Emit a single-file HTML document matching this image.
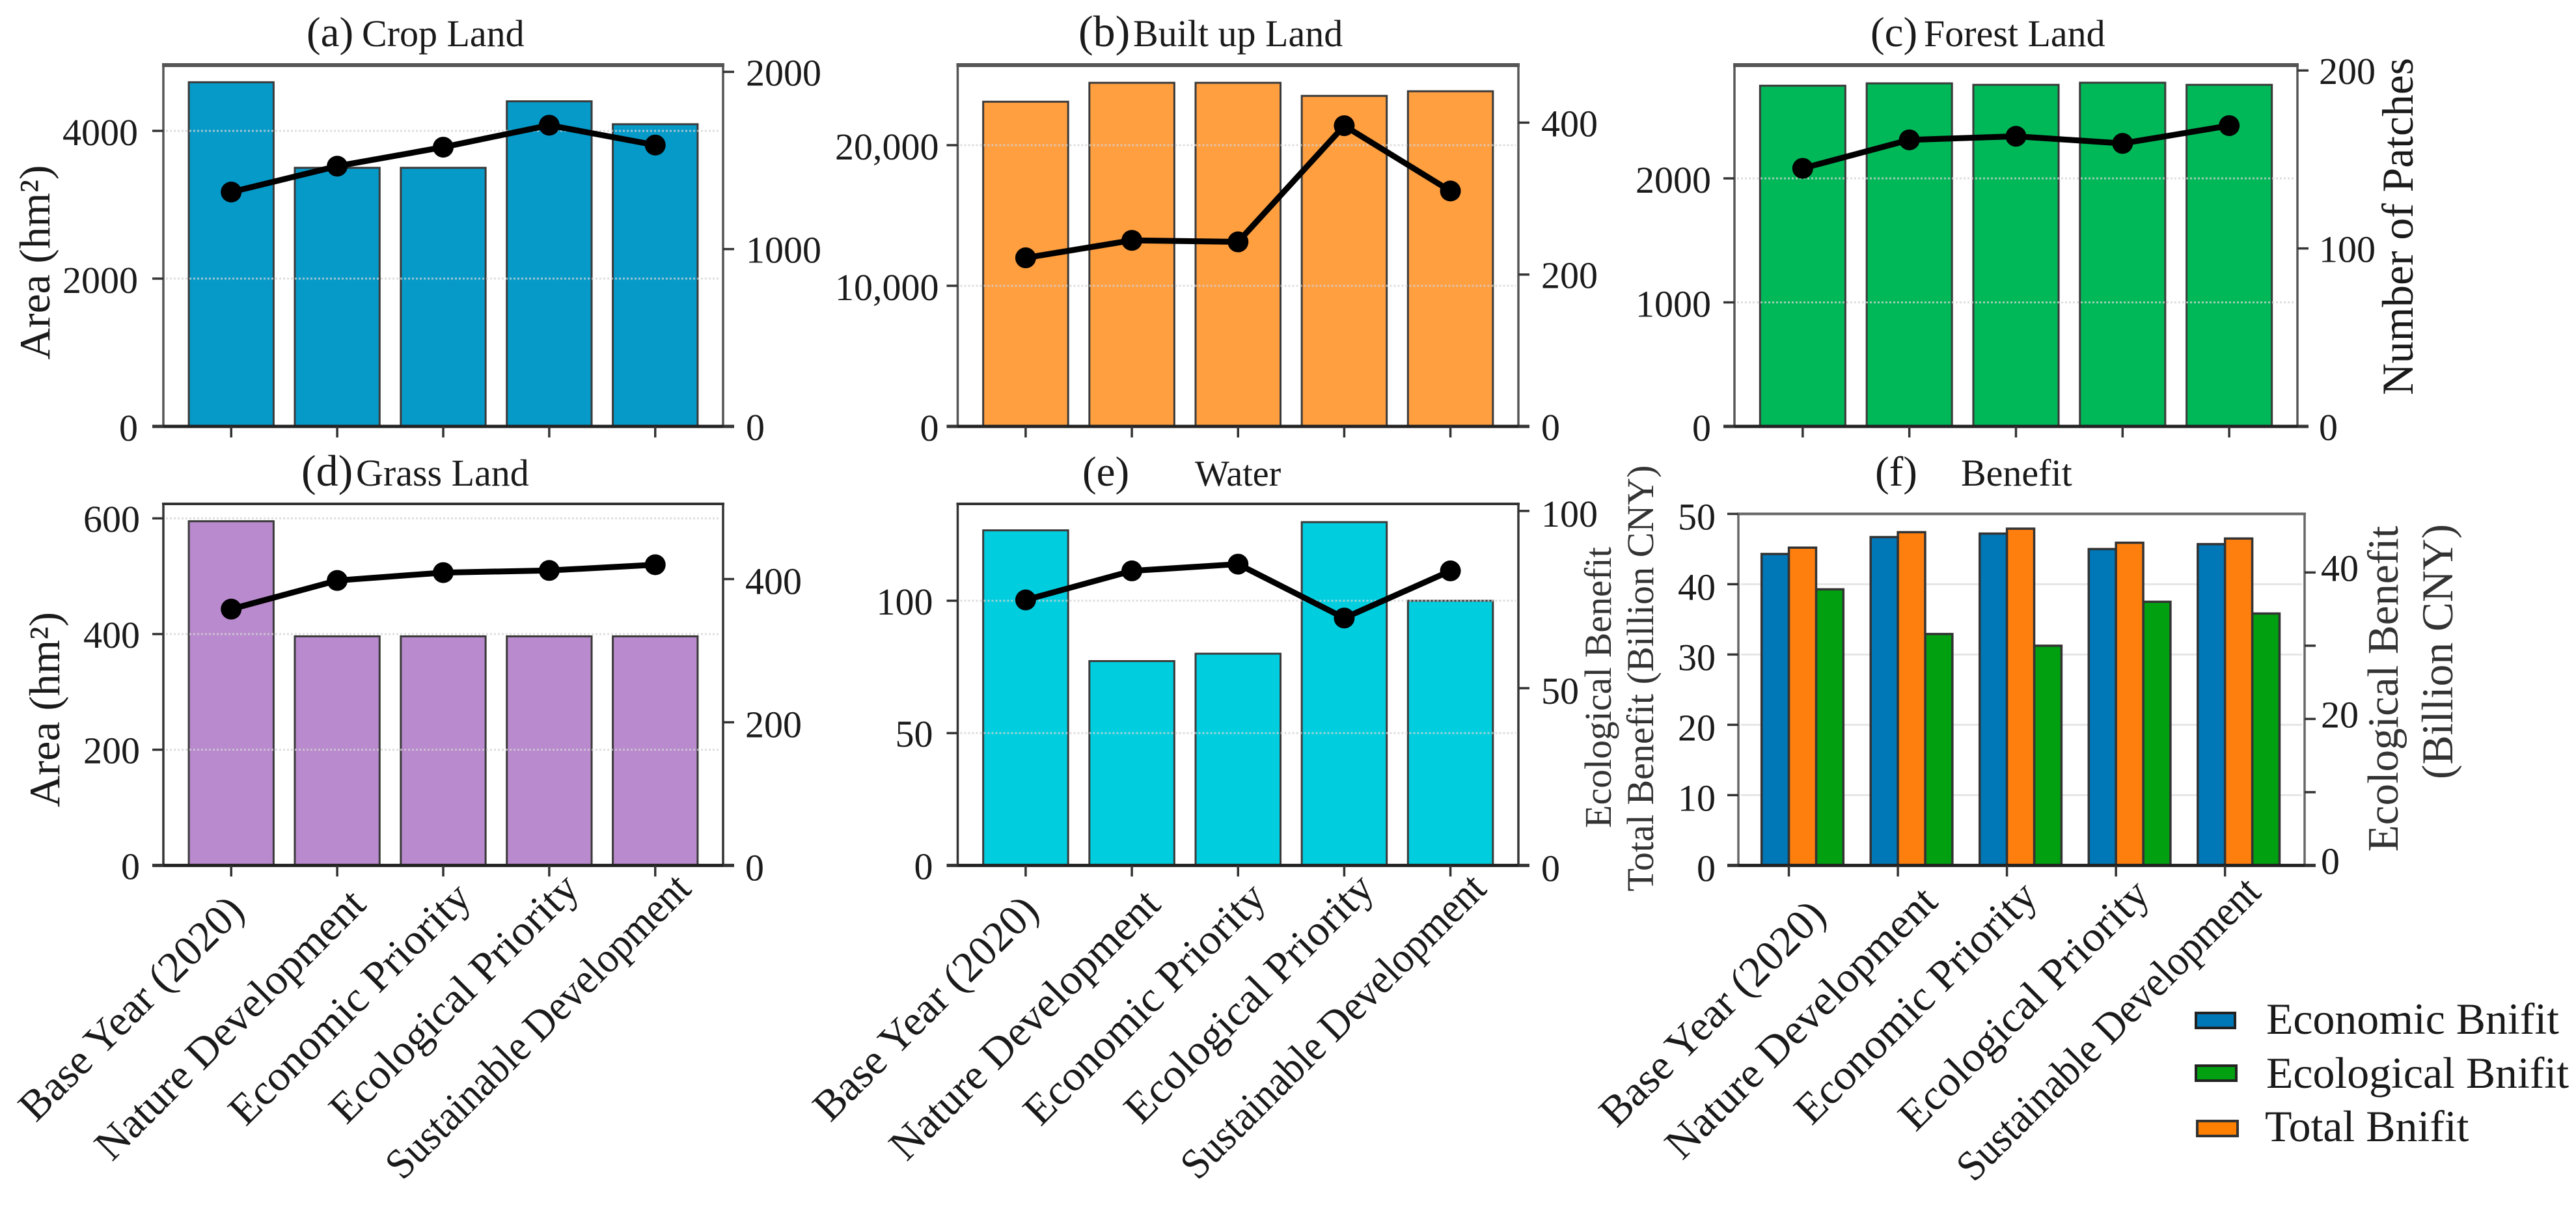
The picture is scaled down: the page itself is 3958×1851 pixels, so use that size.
<!DOCTYPE html>
<html lang="en">
<head>
<meta charset="utf-8">
<title>Land use scenarios chart</title>
<style>
html,body{margin:0;padding:0;background:#fff;}
svg{display:block;}
text{font-family:"Liberation Serif",serif;fill:#1a1a1a;}
</style>
</head>
<body>
<svg id="chart" xmlns="http://www.w3.org/2000/svg" width="3958" height="1851" viewBox="0 0 3958 1851">
  <rect x="0" y="0" width="3958" height="1851" fill="#ffffff"/>
  <g id="panels"></g>

  <g>
    <text x="471" y="71" font-size="65">(a)</text>
    <text x="556" y="71" font-size="58">Crop Land</text>
    <text x="1657" y="71" font-size="68">(b)</text>
    <text x="1741" y="71" font-size="58">Built up Land</text>
    <text x="2874" y="71" font-size="65">(c)</text>
    <text x="2956" y="71" font-size="58">Forest Land</text>
    <text x="463" y="746" font-size="68">(d)</text>
    <text x="547" y="746" font-size="58">Grass Land</text>
    <text x="1663" y="746" font-size="65">(e)</text>
    <text x="1836" y="746" font-size="56">Water</text>
    <text x="2881" y="746" font-size="65">(f)</text>
    <text x="3013" y="746" font-size="58">Benefit</text>
  </g>

  <g>
    <text transform="translate(76,403) rotate(-90)" text-anchor="middle" font-size="67" textLength="299" lengthAdjust="spacingAndGlyphs">Area (hm²)</text>
    <text transform="translate(91,1090) rotate(-90)" text-anchor="middle" font-size="67" textLength="300" lengthAdjust="spacingAndGlyphs">Area (hm²)</text>
    <text transform="translate(3707,348) rotate(-90)" text-anchor="middle" font-size="67.6">Number of Patches</text>
    <text transform="translate(2475,1056) rotate(-90)" text-anchor="middle" font-size="57.8" style="fill:#333">Ecological Benefit</text>
    <text transform="translate(2540,1042) rotate(-90)" text-anchor="middle" font-size="58" style="fill:#333">Total Benefit (Billion CNY)</text>
    <text transform="translate(3684,1058) rotate(-90)" text-anchor="middle" font-size="67" style="fill:#333">Ecological Benefit</text>
    <text transform="translate(3768,1001) rotate(-90)" text-anchor="middle" font-size="67.5" style="fill:#333">(Billion CNY)</text>
  </g>

  <g>
    <g>
      <rect x="3374" y="1556" width="60" height="23" fill="#0077B6" stroke="#222" stroke-width="4"/>
      <text x="3482" y="1588" font-size="67.8">Economic Bnifit</text>
    </g>
    <g>
      <rect x="3374" y="1637" width="62" height="23" fill="#00A010" stroke="#222" stroke-width="4"/>
      <text x="3482" y="1671" font-size="67.8">Ecological Bnifit</text>
    </g>
    <g>
      <rect x="3376" y="1722" width="62" height="23" fill="#FF7F00" stroke="#333" stroke-width="4"/>
      <text x="3480" y="1753" font-size="67.8">Total Bnifit</text>
    </g>
  </g>
</svg>

<script>
const categories = ["Base Year (2020)", "Nature Development", "Economic Priority", "Ecological Priority", "Sustainable Development"];

const cropArea = [4658, 3500, 3500, 4400, 4090];
const cropPatches = [1322, 1468, 1575, 1699, 1587];
const cropAreaTicks = [0, 2000, 4000];
const cropPatchTicks = [0, 1000, 2000];

const builtArea = [23090, 24435, 24435, 23505, 23833];
const builtPatches = [222, 245, 243, 396, 310];
const builtAreaTicks = [0, 10000, 20000];
const builtPatchTicks = [0, 200, 400];

const forestArea = [2747, 2766, 2754, 2771, 2754];
const forestPatches = [145, 161, 163, 159, 169];
const forestAreaTicks = [0, 1000, 2000];
const forestPatchTicks = [0, 100, 200];

const grassArea = [595, 396, 396, 396, 396];
const grassPatches = [358, 398, 409, 412, 420];
const grassAreaTicks = [0, 200, 400, 600];
const grassPatchTicks = [0, 200, 400];

const waterArea = [126.6, 77.2, 80, 129.7, 100];
const waterPatches = [74.9, 83.1, 85, 69.8, 83.1];
const waterAreaTicks = [0, 50, 100];
const waterPatchTicks = [0, 50, 100];

const economicBenefit = [44.3, 46.7, 47.2, 45, 45.7];
const totalBenefit = [45.2, 47.4, 47.9, 45.9, 46.5];
const ecologicalBenefit = [37.7, 31.6, 30, 36, 34.4];
const benefitLeftTicks = [0, 10, 20, 30, 40, 50];
const benefitRightTicks = [0, 10, 20, 30, 40];
const benefitRightLabels = ["0", "", "20", "", "40"];

const NS = "http://www.w3.org/2000/svg";
const root = document.getElementById("panels");

function make(tag, attrs, parent) {
  const el = document.createElementNS(NS, tag);
  for (const k in attrs) el.setAttribute(k, attrs[k]);
  parent.appendChild(el);
  return el;
}
function linearX(left, right, min, max) {
  return v => left + (v - min) / (max - min) * (right - left);
}
function linearY(bottom, top, max) {
  return v => bottom - v / max * (bottom - top);
}
function fmt(v) {
  return v >= 10000 ? String(v).replace(/(\d)(\d{3})$/, "$1,$2") : String(v);
}

function drawFrame(g, f) {
  const top = make("line", {x1: f.left - 2, x2: f.right + 2, y1: f.top, y2: f.top, stroke: f.spine, "stroke-width": f.topWidth}, g);
  
  
  const l = make("line", {x1: f.left, x2: f.left, y1: f.top, y2: f.bottom, stroke: f.spine, "stroke-width": 3.5}, g);
  
  
  const r = make("line", {x1: f.right, x2: f.right, y1: f.top, y2: f.bottom, stroke: f.spine, "stroke-width": 3.5}, g);
  
  
  const b = make("line", {x1: f.left, x2: f.right, y1: f.bottom, y2: f.bottom, stroke: "#222", "stroke-width": 5}, g);
  
  
}

function drawGrid(g, f, ticks, y) {
  ticks.forEach(t => {
    if (t === 0) return;
    const line = make("line", {x1: f.left + 4, x2: f.right - 4, y1: y(t), y2: y(t), stroke: f.gridColor, "stroke-width": 3, "stroke-dasharray": f.gridDash, opacity: f.gridOpacity}, g);
    
    
  });
}

function drawYAxis(g, f, ticks, y, side, labels) {
  const tickDir = side === "left" ? -1 : 1;
  const edge = side === "left" ? f.left : f.right;
  const gap = side === "left" ? f.leftGap : f.rightGap;
  const dy = side === "left" ? f.leftDy : f.rightDy;
  ticks.forEach((t, i) => {
    const m = make("line", {x1: edge, x2: edge + tickDir * 17, y1: y(t), y2: y(t), stroke: "#333", "stroke-width": t === 0 ? 5 : 3.5}, g);
    
    
    const s = labels ? labels[i] : fmt(t);
    if (s) {
      const lab = make("text", {x: edge + tickDir * gap, y: y(t) + dy, "font-size": 58, "text-anchor": side === "left" ? "end" : "start"}, g);
      
      
      lab.textContent = s;
    }
  });
}

function drawXAxis(g, f, x, offsets, showLabels) {
  categories.forEach((c, i) => {
    const m = make("line", {x1: x(i), x2: x(i), y1: f.bottom, y2: f.bottom + 17, stroke: "#333", "stroke-width": 3.5}, g);
    
    
    if (showLabels) {
      const ax = x(i) + offsets[i][0];
      const ay = f.bottom + offsets[i][1];
      const lab = make("text", {x: ax, y: ay, "font-size": 66, "text-anchor": "end", textLength: offsets[i][2], lengthAdjust: "spacingAndGlyphs", transform: "rotate(-45 " + ax + " " + ay + ")"}, g);
      
      
      lab.textContent = c;
    }
  });
}

function drawBars(g, f, x, y, values, color, name) {
  values.forEach((v, i) => {
    const x0 = x(i - 0.4), x1 = x(i + 0.4);
    const r = make("rect", {x: x0, y: y(v), width: x1 - x0, height: y(0) - y(v), fill: color, stroke: "#3a3a3a", "stroke-width": 3}, g);
    
    
  });
}

function drawLine(g, x, y, values) {
  const pts = values.map((v, i) => x(i) + "," + y(v)).join(" ");
  const pl = make("polyline", {points: pts, fill: "none", stroke: "#000", "stroke-width": 9, "stroke-linejoin": "round"}, g);
  
  
  values.forEach((v, i) => {
    const c = make("circle", {cx: x(i), cy: y(v), r: 16, fill: "#000"}, g);
    
    
  });
}

const bottomOffsets = [[23, 73, 457], [47, 63, 556], [46, 53, 494], [49, 39, 510], [58, 39, 631]];
const benefitOffsets = [[60, 80, 459], [64, 59, 559], [50, 51, 495], [55, 48, 513], [58, 44, 628]];

const landPanels = [
  {name: "crop-land", left: 251, right: 1111, top: 100, bottom: 655, spine: "#555", topWidth: 6, leftMax: 4890, rightMax: 2038, area: cropArea, patches: cropPatches, leftTicks: cropAreaTicks, rightTicks: cropPatchTicks, color: "#069AC9", leftGap: 39, rightGap: 35, leftDy: 22, rightDy: 21, labels: false},
  {name: "built-up-land", left: 1471.5, right: 2333, top: 100, bottom: 655, spine: "#555", topWidth: 6, leftMax: 25694, rightMax: 475.8, area: builtArea, patches: builtPatches, leftTicks: builtAreaTicks, rightTicks: builtPatchTicks, color: "#FF9F40", leftGap: 29, rightGap: 35, leftDy: 22, rightDy: 21, labels: false},
  {name: "forest-land", left: 2665, right: 3530, top: 100, bottom: 655, spine: "#555", topWidth: 6, leftMax: 2913, rightMax: 203, area: forestArea, patches: forestPatches, leftTicks: forestAreaTicks, rightTicks: forestPatchTicks, color: "#00B858", leftGap: 36, rightGap: 33, leftDy: 22, rightDy: 21, labels: false},
  {name: "grass-land", left: 251, right: 1111, top: 774, bottom: 1329.4, spine: "#333", topWidth: 4, leftMax: 625, rightMax: 505, area: grassArea, patches: grassPatches, leftTicks: grassAreaTicks, rightTicks: grassPatchTicks, color: "#B98ACD", leftGap: 36, rightGap: 34, leftDy: 21, rightDy: 23, labels: true},
  {name: "water", left: 1471.5, right: 2333, top: 774, bottom: 1329.4, spine: "#333", topWidth: 4, leftMax: 136.6, rightMax: 102, area: waterArea, patches: waterPatches, leftTicks: waterAreaTicks, rightTicks: waterPatchTicks, color: "#00CEDF", leftGap: 38, rightGap: 35, leftDy: 21, rightDy: 24, labels: true}
];

landPanels.forEach(p => {
  const g = make("g", {}, root);
  
  
  p.gridColor = "#d4d4d4";
  p.gridDash = "3 3";
  p.gridOpacity = 0.75;
  const x = linearX(p.left, p.right, -0.64, 4.64);
  const yL = linearY(p.bottom, p.top, p.leftMax);
  const yR = linearY(p.bottom, p.top, p.rightMax);
  drawBars(g, p, x, yL, p.area, p.color, "area-bar");
  drawGrid(g, p, p.leftTicks, yL);
  drawFrame(g, p);
  drawYAxis(g, p, p.leftTicks, yL, "left");
  drawYAxis(g, p, p.rightTicks, yR, "right");
  drawXAxis(g, p, x, bottomOffsets, p.labels);
  drawLine(g, x, yR, p.patches);
});

(function drawBenefitPanel() {
  const f = {left: 2671, right: 3541, top: 789.4, bottom: 1329.4, spine: "#666", topWidth: 4, gridColor: "#e6e6e6", gridDash: "none", gridOpacity: 1, leftGap: 35, rightGap: 25, leftDy: 24, rightDy: 13};
  const g = make("g", {}, root);
  
  
  const x = linearX(f.left, f.right, -0.463, 4.73);
  const yL = linearY(f.bottom, f.top, 50);
  const yR = linearY(f.bottom, f.top, 48);
  drawGrid(g, f, benefitLeftTicks.slice(0, 5), yL);
  const series = [
    {values: economicBenefit, y: yL, offset: -0.25, color: "#0077B6", name: "economic-benefit-bar"},
    {values: ecologicalBenefit, y: yR, offset: 0.25, color: "#00A010", name: "ecological-benefit-bar"},
    {values: totalBenefit, y: yL, offset: 0, color: "#FF7F0E", name: "total-benefit-bar"}
  ];
  series.forEach(s => {
    s.values.forEach((v, i) => {
      const x0 = x(i + s.offset), x1 = x(i + s.offset + 0.25);
      const r = make("rect", {x: x0, y: s.y(v), width: x1 - x0, height: s.y(0) - s.y(v), fill: s.color, stroke: "#333", "stroke-width": 3.5}, g);
      
      
    });
  });
  drawFrame(g, f);
  drawYAxis(g, f, benefitLeftTicks, yL, "left");
  drawYAxis(g, f, benefitRightTicks, yR, "right", benefitRightLabels);
  drawXAxis(g, f, x, benefitOffsets, true);
})();
</script>
</body>
</html>
